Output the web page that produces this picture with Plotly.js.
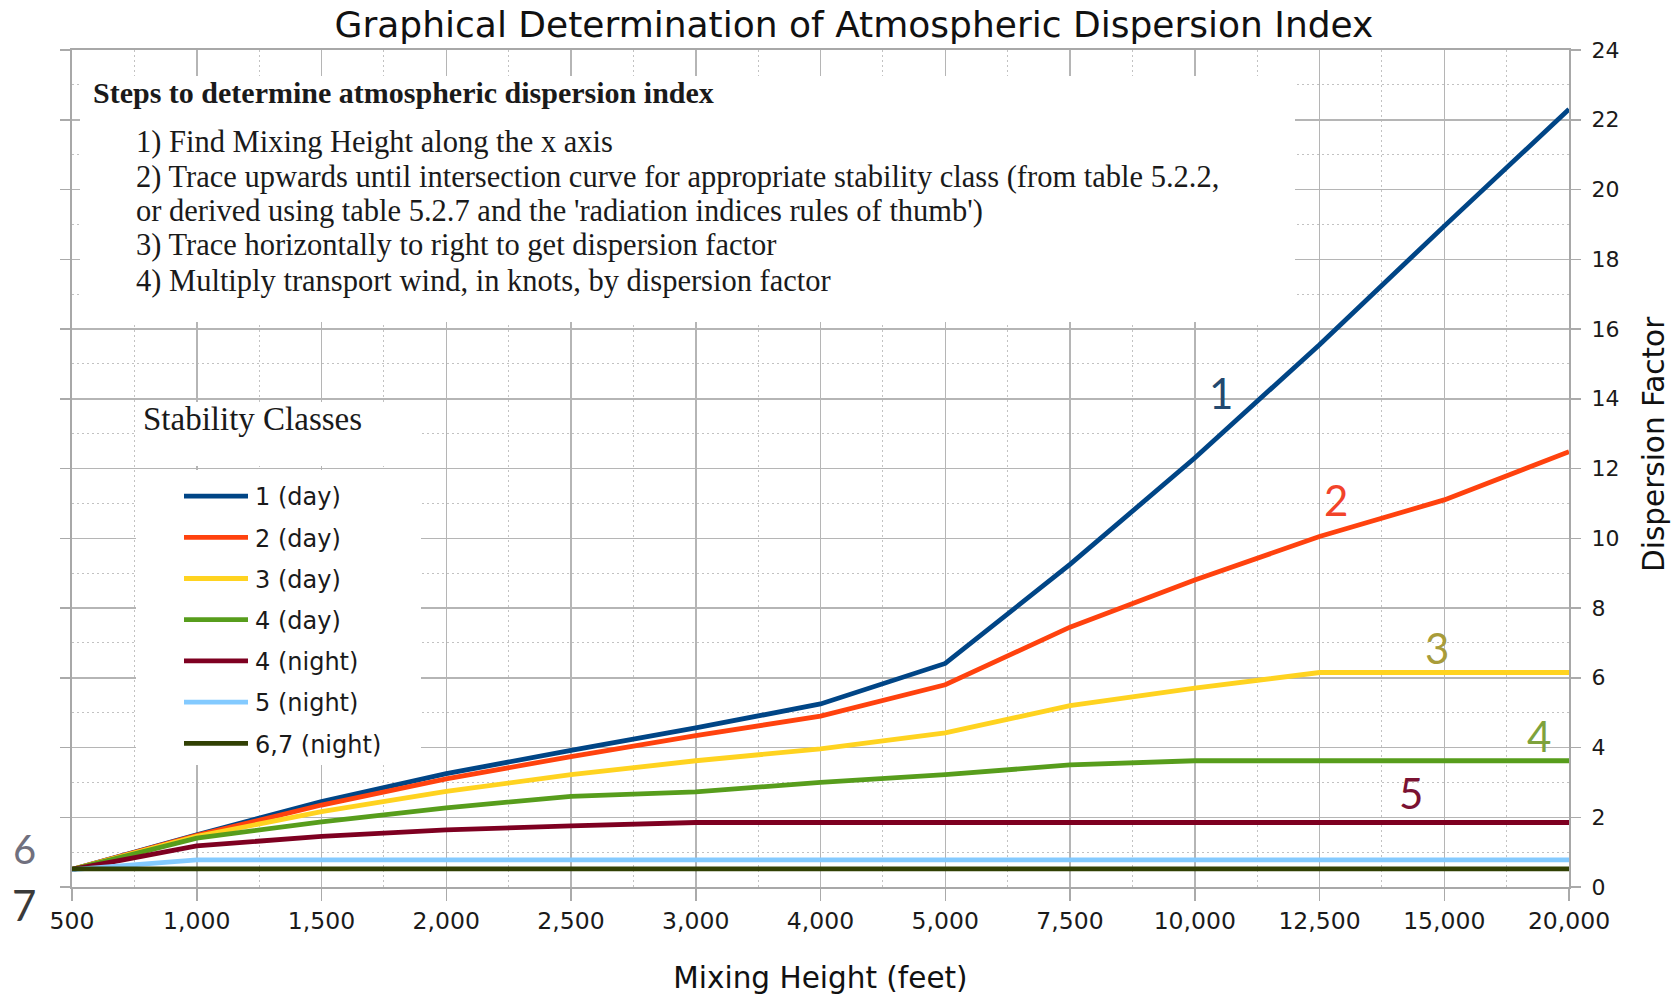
<!DOCTYPE html>
<html>
<head>
<meta charset="utf-8">
<script src="https://cdn.plot.ly/plotly-3.0.1.min.js"></script>
<style>
html,body{margin:0;padding:0;background:#ffffff;}
#chart{width:1679px;height:995px;}
</style>
</head>
<body>
<div id="chart"></div>
<script>
// ---------------- data ----------------
const mixingHeights = ['500','1,000','1,500','2,000','2,500','3,000','4,000','5,000','7,500','10,000','12,500','15,000','20,000'];
const class1Day   = [0.5, 1.50, 2.45, 3.25, 3.92, 4.56, 5.25, 6.41, 9.25, 12.30, 15.55, 18.95, 22.30];
const class2Day   = [0.5, 1.48, 2.35, 3.10, 3.74, 4.34, 4.90, 5.80, 7.45, 8.80, 10.05, 11.10, 12.48];
const class3Day   = [0.5, 1.45, 2.16, 2.74, 3.22, 3.62, 3.96, 4.42, 5.20, 5.70, 6.15, 6.15, 6.15];
const class4Day   = [0.5, 1.40, 1.87, 2.27, 2.60, 2.73, 3.00, 3.22, 3.50, 3.62, 3.62, 3.62, 3.62];
const class4Night = [0.5, 1.18, 1.45, 1.64, 1.75, 1.85, 1.85, 1.85, 1.85, 1.85, 1.85, 1.85, 1.85];
const class5Night = [0.5, 0.78, 0.78, 0.78, 0.78, 0.78, 0.78, 0.78, 0.78, 0.78, 0.78, 0.78, 0.78];
const class67Night= [0.52, 0.52, 0.52, 0.52, 0.52, 0.52, 0.52, 0.52, 0.52, 0.52, 0.52, 0.52, 0.52];

const seriesNames  = ['1 (day)','2 (day)','3 (day)','4 (day)','4 (night)','5 (night)','6,7 (night)'];
const seriesValues = [class1Day, class2Day, class3Day, class4Day, class4Night, class5Night, class67Night];
const seriesColors = ['#004586','#ff420e','#ffd320','#579d1c','#7e0021','#83caff','#314004'];

const yTickValues = [0,2,4,6,8,10,12,14,16,18,20,22,24];

const chartTitle = 'Graphical Determination of Atmospheric Dispersion Index';
const xTitle = 'Mixing Height (feet)';
const yTitle = 'Dispersion Factor';
const legendTitle = 'Stability Classes';
const stepsTitle = 'Steps to determine atmospheric dispersion index';
const stepsLines = [
  '1) Find Mixing Height along the x axis',
  '2) Trace upwards until intersection curve for appropriate stability class (from table 5.2.2,',
  "or derived using table 5.2.7 and the 'radiation indices rules of thumb')",
  '3) Trace horizontally to right to get dispersion factor',
  '4) Multiply transport wind, in knots, by dispersion factor'
];
const curveLabels = ['1','2','3','4','5','6','7'];
const curveLabelColors = ['#23496f','#f2432a','#a89c3a','#7ea23c','#7a1232','#70707e','#3a3a3a'];

// ---------------- layout helpers (pixel -> paper) ----------------
const W = 1679, H = 995;
const PL = 72, PR = 1569, PT = 50, PB = 887;
const px = x => (x - PL) / (PR - PL);
const py = y => (PB - y) / (PB - PT);

const xIdx = mixingHeights.map((_, i) => i);

const traces = seriesNames.map((name, k) => ({
  type: 'scatter',
  mode: 'lines',
  name: name,
  legendgroup: 'g' + k,
  x: xIdx,
  y: seriesValues[k],
  line: {color: seriesColors[k], width: 4.8},
  hoverinfo: 'skip'
}));

const serif = 'Liberation Serif, Times New Roman, serif';
const sans = 'DejaVu Sans, Liberation Sans, sans-serif';

const annotations = [];
annotations.push({
  xref: 'paper', yref: 'paper', x: px(91), y: py(93), xanchor: 'left', yanchor: 'middle',
  text: '<b>' + stepsTitle + '</b>', showarrow: false,
  font: {family: serif, size: 30, color: '#1a1a1a'}
});
const stepsY = [142.4, 176.7, 210.9, 245.2, 280.5];
stepsLines.forEach((t, i) => annotations.push({
  xref: 'paper', yref: 'paper', x: px(134), y: py(stepsY[i]), xanchor: 'left', yanchor: 'middle',
  text: t, showarrow: false, font: {family: serif, size: 30.5, color: '#1a1a1a'}
}));
annotations.push({
  xref: 'paper', yref: 'paper', x: px(141), y: py(419), xanchor: 'left', yanchor: 'middle',
  text: legendTitle, showarrow: false, font: {family: serif, size: 33, color: '#1a1a1a'}
});
annotations.push({
  xref: 'paper', yref: 'paper', x: px(1654), y: py(444), xanchor: 'center', yanchor: 'middle',
  text: yTitle, textangle: -90, showarrow: false,
  font: {family: sans, size: 29.5, color: '#111111'}
});
const labelPos = [[1221,393],[1336,500],[1437,648],[1539,736],[1411,793],[24,849],[24,905]];
const labelSize = [42,42,42,42,42,40,42];
curveLabels.forEach((t, i) => annotations.push({
  xref: 'paper', yref: 'paper', x: px(labelPos[i][0]), y: py(labelPos[i][1]),
  xanchor: 'center', yanchor: 'middle', text: t, showarrow: false,
  font: {family: 'Lato, Open Sans, sans-serif', size: labelSize[i], color: curveLabelColors[i]}
}));

// white panels that hide the grid behind the instruction text and legend
const whiteBox = (x0, y0, x1, y1) => ({
  type: 'rect', xref: 'paper', yref: 'paper', layer: 'above',
  x0: px(x0), x1: px(x1), y0: py(y1), y1: py(y0),
  fillcolor: '#ffffff', line: {width: 0}
});

const layout = {
  width: W, height: H,
  margin: {l: PL, r: W - PR, t: PT, b: H - PB, pad: 0},
  paper_bgcolor: '#ffffff', plot_bgcolor: '#ffffff',
  showlegend: true,
  title: {
    text: chartTitle, x: px(854), xref: 'paper', xanchor: 'center',
    y: 1 - 24 / H, yref: 'container', yanchor: 'middle',
    font: {family: sans, size: 36, color: '#111111'}
  },
  xaxis: {
    type: 'linear', range: [0, mixingHeights.length - 1],
    tickmode: 'array', tickvals: xIdx, ticktext: mixingHeights,
    ticks: 'outside', ticklen: 12, tickwidth: 1.5, tickcolor: '#aaaaaa',
    ticklabelstandoff: 0,
    tickfont: {family: sans, size: 23.5, color: '#1a1a1a'},
    showgrid: true, gridcolor: '#b5b5b5', gridwidth: 1.5,
    minor: {tickmode: 'linear', tick0: 0.5, dtick: 1, showgrid: true, gridcolor: '#c2c2c2', gridwidth: 1, griddash: '2px,3px', ticks: ''},
    showline: true, linecolor: '#a8a8a8', linewidth: 2, mirror: true,
    zeroline: false, fixedrange: true,
    title: {text: xTitle, standoff: 33, font: {family: sans, size: 29.5, color: '#111111'}}
  },
  yaxis: {
    side: 'right', range: [0, 24], tickmode: 'array', tickvals: yTickValues,
    ticks: 'outside', ticklen: 10, tickwidth: 1.5, tickcolor: '#aaaaaa',
    ticklabelstandoff: 6,
    tickfont: {family: sans, size: 22, color: '#1a1a1a'},
    showgrid: true, gridcolor: '#b5b5b5', gridwidth: 1.5,
    minor: {tickmode: 'linear', tick0: 1, dtick: 2, showgrid: true, gridcolor: '#c2c2c2', gridwidth: 1, griddash: '2px,3px', ticks: ''},
    showline: true, linecolor: '#a8a8a8', linewidth: 2, mirror: 'ticks',
    zeroline: false, fixedrange: true
  },
  legend: {
    x: px(175), y: py(474), xref: 'paper', yref: 'paper', xanchor: 'left', yanchor: 'top',
    bgcolor: 'rgba(0,0,0,0)', borderwidth: 0,
    font: {family: sans, size: 24, color: '#1a1a1a'},
    itemwidth: 70, tracegroupgap: 7, traceorder: 'grouped', valign: 'middle'
  },
  shapes: [
    whiteBox(80, 76, 1295, 322),
    whiteBox(136, 402, 421, 466),
    whiteBox(136, 470, 421, 765)
  ],
  annotations: annotations
};

Plotly.newPlot('chart', traces, layout, {displayModeBar: false, staticPlot: true}).then(gd => {
  gd.querySelectorAll('.legend .legendlines path').forEach(p => p.setAttribute('d', 'M9,0h64'));
});
</script>
</body>
</html>
